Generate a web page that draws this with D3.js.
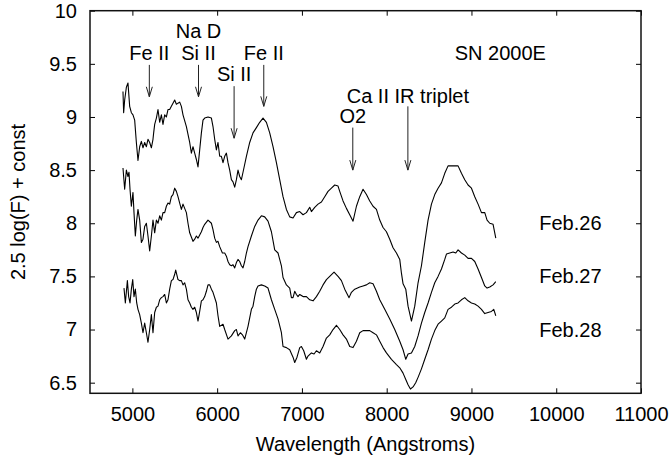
<!DOCTYPE html>
<html>
<head>
<meta charset="utf-8">
<script src="https://cdn.jsdelivr.net/npm/d3@7"></script>
<style>
  body { margin: 0; background: #fff; }
  svg { display: block; font-family: "Liberation Sans", Arial, Helvetica, sans-serif; }
  .axis text { font-size: 20px; fill: #000; }
  .axis path { display: none; }
  .axis line { stroke: #000; }
  .note { font-size: 20px; fill: #000; }
</style>
</head>
<body>
<svg></svg>
<script>
// spectra of SN 2000E, wavelength (Angstroms) and 2.5 log(F) + const
var wave26 = [4889,4897,4909,4929,4948,4968,4988,5007,5027,5047,5066,5086,5106,5125,5145,5165,5184,5204,5224,5243,5251,5263,5283,5302,5322,5342,5361,5381,5401,5420,5440,5460,5479,5499,5519,5538,5558,5578,5597,5637,5676,5696,5715,5735,5755,5774,5794,5814,5833,5853,5892,5932,5951,5971,5991,6010,6030,6050,6069,6089,6109,6128,6148,6168,6187,6207,6227,6246,6266,6286,6305,6345,6384,6423,6463,6502,6541,6581,6620,6659,6699,6738,6777,6817,6856,6895,6935,6974,7013,7053,7092,7112,7151,7190,7230,7269,7308,7348,7387,7426,7446,7485,7525,7564,7603,7643,7682,7721,7761,7800,7839,7879,7918,7957,7997,8036,8075,8115,8154,8174,8193,8225,8252,8292,8331,8370,8410,8449,8488,8528,8567,8606,8646,8685,8724,8764,8803,8842,8882,8921,8960,9000,9039,9078,9118,9157,9184,9216,9255,9287];
var flux26 = [9.24,9.04,9.16,9.28,9.32,9.10,9.04,9.02,8.97,8.76,8.59,8.72,8.77,8.71,8.76,8.72,8.79,8.76,8.71,8.79,8.85,8.93,8.99,9.07,8.95,9.02,8.93,9.02,9.00,9.07,9.07,9.10,9.13,9.16,9.12,9.13,9.14,9.10,9.02,8.91,8.76,8.66,8.72,8.66,8.60,8.53,8.69,8.85,8.97,8.99,9.00,8.99,8.91,8.79,8.69,8.76,8.63,8.63,8.57,8.63,8.66,8.57,8.50,8.41,8.39,8.34,8.41,8.50,8.44,8.41,8.48,8.63,8.76,8.85,8.90,8.95,8.99,8.95,8.85,8.72,8.57,8.41,8.25,8.13,8.06,8.05,8.10,8.11,8.08,8.10,8.15,8.11,8.15,8.18,8.20,8.25,8.30,8.33,8.36,8.35,8.30,8.21,8.14,8.08,8.02,8.16,8.25,8.32,8.27,8.21,8.16,8.13,8.03,7.96,7.92,7.85,7.77,7.72,7.66,7.53,7.43,7.38,7.22,7.08,7.22,7.44,7.60,7.82,8.03,8.18,8.27,8.33,8.38,8.47,8.54,8.54,8.54,8.54,8.47,8.41,8.36,8.33,8.25,8.18,8.10,8.10,8.03,8.00,7.99,7.86];

var wave27 = [4889,4909,4929,4948,4960,4972,4988,5007,5019,5035,5051,5066,5086,5106,5125,5145,5165,5184,5204,5224,5243,5263,5283,5302,5322,5342,5361,5381,5401,5420,5440,5460,5479,5499,5519,5538,5558,5578,5597,5617,5637,5656,5676,5715,5735,5755,5774,5794,5814,5833,5853,5892,5932,5951,5971,5991,6010,6030,6062,6089,6109,6128,6148,6168,6187,6207,6227,6246,6266,6286,6305,6325,6345,6364,6404,6443,6482,6522,6561,6600,6640,6679,6718,6758,6777,6817,6856,6876,6895,6915,6935,6954,6974,7013,7053,7092,7131,7171,7210,7249,7289,7328,7379,7426,7466,7505,7556,7584,7623,7682,7721,7761,7800,7839,7879,7918,7977,8036,8095,8154,8193,8225,8252,8292,8331,8370,8410,8449,8488,8528,8567,8606,8646,8685,8705,8744,8783,8815,8842,8882,8921,8960,9000,9039,9078,9118,9157,9184,9216,9255,9287];
var flux27 = [8.52,8.32,8.50,8.44,8.48,8.32,8.16,8.29,8.10,7.88,8.03,8.13,8.03,7.82,7.85,7.97,8.00,7.88,7.74,7.88,8.03,7.91,8.03,8.00,8.07,8.03,8.10,8.10,8.16,8.19,8.18,8.25,8.27,8.33,8.30,8.25,8.19,8.13,8.18,8.14,8.10,8.00,7.91,7.83,7.85,7.88,7.86,7.89,7.92,7.96,7.99,8.03,8.00,7.94,7.86,7.82,7.83,7.78,7.72,7.72,7.69,7.64,7.61,7.60,7.61,7.58,7.63,7.66,7.64,7.60,7.58,7.64,7.72,7.78,7.88,7.97,8.03,8.07,8.06,8.02,7.92,7.75,7.72,7.60,7.49,7.42,7.39,7.30,7.30,7.36,7.33,7.31,7.33,7.31,7.31,7.28,7.27,7.31,7.36,7.42,7.47,7.50,7.54,7.50,7.46,7.38,7.30,7.35,7.38,7.40,7.41,7.42,7.44,7.43,7.36,7.28,7.19,7.10,7.00,6.89,6.81,6.72,6.77,6.78,6.84,6.94,7.06,7.16,7.25,7.35,7.44,7.50,7.57,7.66,7.71,7.72,7.73,7.72,7.75,7.72,7.70,7.67,7.67,7.64,7.57,7.49,7.41,7.39,7.40,7.42,7.45];

var wave28 = [4901,4917,4941,4956,4972,4988,5004,5019,5035,5051,5066,5086,5106,5125,5145,5165,5184,5204,5224,5243,5263,5283,5302,5322,5342,5361,5381,5401,5420,5440,5460,5479,5499,5511,5538,5558,5578,5597,5617,5637,5656,5676,5696,5715,5735,5755,5774,5794,5814,5833,5853,5873,5892,5912,5932,5951,5991,6010,6030,6069,6089,6128,6168,6207,6227,6246,6274,6298,6325,6364,6404,6423,6443,6463,6482,6522,6561,6600,6640,6679,6718,6758,6777,6817,6856,6895,6915,6942,6974,6994,7021,7053,7072,7112,7143,7171,7210,7249,7289,7328,7367,7407,7446,7485,7525,7564,7603,7643,7682,7721,7761,7800,7839,7879,7918,7957,7997,8056,8115,8154,8193,8225,8252,8280,8311,8342,8370,8410,8449,8488,8528,8567,8606,8646,8685,8724,8764,8803,8842,8882,8921,8960,9000,9039,9078,9118,9157,9196,9236,9263,9287];
var flux28 = [7.39,7.25,7.46,7.31,7.25,7.38,7.47,7.31,7.38,7.25,7.19,7.14,7.06,6.97,7.06,6.97,6.88,7.00,7.14,6.97,7.16,7.21,7.22,7.28,7.30,7.31,7.33,7.25,7.28,7.38,7.46,7.47,7.52,7.56,7.47,7.46,7.46,7.42,7.44,7.38,7.28,7.25,7.21,7.19,7.21,7.16,7.08,7.17,7.27,7.28,7.31,7.36,7.42,7.42,7.38,7.35,7.25,7.13,7.03,7.05,7.00,6.91,6.94,6.99,7.00,6.94,6.97,6.95,6.91,7.03,7.19,7.22,7.31,7.38,7.41,7.42,7.41,7.39,7.28,7.19,7.10,6.97,6.84,6.83,6.81,6.74,6.69,6.74,6.83,6.84,6.80,6.72,6.75,6.78,6.77,6.80,6.78,6.84,6.92,6.95,7.00,7.04,7.00,6.95,6.91,6.84,6.83,6.89,6.97,6.99,6.99,6.99,6.97,6.95,6.89,6.83,6.78,6.72,6.67,6.64,6.59,6.53,6.48,6.44,6.46,6.50,6.55,6.63,6.72,6.81,6.91,6.99,7.05,7.08,7.11,7.19,7.21,7.24,7.25,7.28,7.30,7.27,7.25,7.24,7.22,7.19,7.15,7.16,7.17,7.19,7.13];

var dates = ["Feb.26", "Feb.27", "Feb.28"];
var dateLevels = [8, 7.5, 7];

// line identifications: label, wavelength, arrow top, arrow tip, label baseline
var lineNames = ["Fe II", "Si II", "Si II", "Fe II", "O2", "Ca II IR triplet"];
var lineWaves = [5200, 5780, 6200, 6550, 7600, 8250];
var arrowTops = [9.49, 9.49, 9.29, 9.49, 8.90, 9.10];
var arrowTips = [9.19, 9.19, 8.80, 9.10, 8.50, 8.50];
var labelLevels = [9.54, 9.54, 9.34, 9.54, 8.94, 9.13];

var xTicks = [5000, 6000, 7000, 8000, 9000, 10000, 11000];
var yTicks = [6.5, 7, 7.5, 8, 8.5, 9, 9.5, 10];

var width = 670,
  height = 460,
  padL = 90, padR = 641, padT = 10.7, padB = 393.3;

var svg = d3.select('svg')
  .attr('width', width)
  .attr('height', height);

var x = d3.scaleLinear().domain([4500, 11000]).range([padL, padR]);
var y = d3.scaleLinear().domain([6.4, 10]).range([padB, padT]);

// axes, ticks pointing inward on every side
svg.append('g').attr('class', 'axis')
  .attr('transform', 'translate(0,' + padB + ')')
  .call(d3.axisBottom(x).tickValues(xTicks).tickSize(-5).tickPadding(13.5).tickFormat(d => d));
svg.append('g').attr('class', 'axis')
  .attr('transform', 'translate(0,' + padT + ')')
  .call(d3.axisTop(x).tickValues(xTicks).tickSize(-5).tickFormat(''));
svg.append('g').attr('class', 'axis')
  .attr('transform', 'translate(' + padL + ',0)')
  .call(d3.axisLeft(y).tickValues(yTicks).tickSize(-5).tickPadding(13).tickFormat(d => d));
svg.append('g').attr('class', 'axis')
  .attr('transform', 'translate(' + padR + ',0)')
  .call(d3.axisRight(y).tickValues(yTicks).tickSize(-5).tickFormat(''));

svg.append('rect')
  .attr('x', padL).attr('y', padT)
  .attr('width', padR - padL).attr('height', padB - padT)
  .attr('fill', 'none').attr('stroke', '#111').attr('stroke-width', 1.5);

// spectra
var line = d3.line().x(d => x(d[0])).y(d => y(d[1]));
var spectra = [d3.zip(wave26, flux26), d3.zip(wave27, flux27), d3.zip(wave28, flux28)];

svg.selectAll('.spec').data(spectra)
  .join('path')
  .attr('class', 'spec')
  .attr('d', line)
  .attr('fill', 'none')
  .attr('stroke', '#000')
  .attr('stroke-width', 1.1)
  .attr('stroke-linejoin', 'round');

// date labels
svg.selectAll('.date').data(dates)
  .join('text')
  .attr('class', 'note date')
  .attr('x', x(9800))
  .attr('y', (d, i) => y(dateLevels[i]))
  .attr('dy', '0.35em')
  .text(d => d);

// line identification arrows
svg.selectAll('.arrow').data(lineWaves)
  .join('path')
  .attr('class', 'arrow')
  .attr('d', (d, i) => {
    var ax = x(d), y0 = y(arrowTops[i]), y1 = y(arrowTips[i]);
    return 'M' + ax + ',' + y0 + 'L' + ax + ',' + y1 +
      'M' + (ax - 3) + ',' + (y1 - 10) + 'L' + ax + ',' + y1 + 'L' + (ax + 3) + ',' + (y1 - 10);
  })
  .attr('fill', 'none')
  .attr('stroke', '#222')
  .attr('stroke-width', 1);

svg.selectAll('.idlabel').data(lineNames)
  .join('text')
  .attr('class', 'note idlabel')
  .attr('text-anchor', 'middle')
  .attr('x', (d, i) => x(lineWaves[i]))
  .attr('y', (d, i) => y(labelLevels[i]))
  .text(d => d);

svg.append('text').attr('class', 'note')
  .attr('text-anchor', 'middle')
  .attr('x', x(5780)).attr('y', y(9.74))
  .text('Na D');

svg.append('text').attr('class', 'note')
  .attr('text-anchor', 'middle')
  .attr('x', x(9340)).attr('y', y(9.54))
  .text('SN 2000E');

// axis titles
svg.append('text').attr('class', 'note')
  .attr('text-anchor', 'middle')
  .attr('x', (padL + padR) / 2).attr('y', 451)
  .text('Wavelength (Angstroms)');

svg.append('text').attr('class', 'note')
  .attr('text-anchor', 'middle')
  .attr('transform', 'translate(25,' + ((padT + padB) / 2) + ') rotate(-90)')
  .text('2.5 log(F) + const');
</script>
</body>
</html>
